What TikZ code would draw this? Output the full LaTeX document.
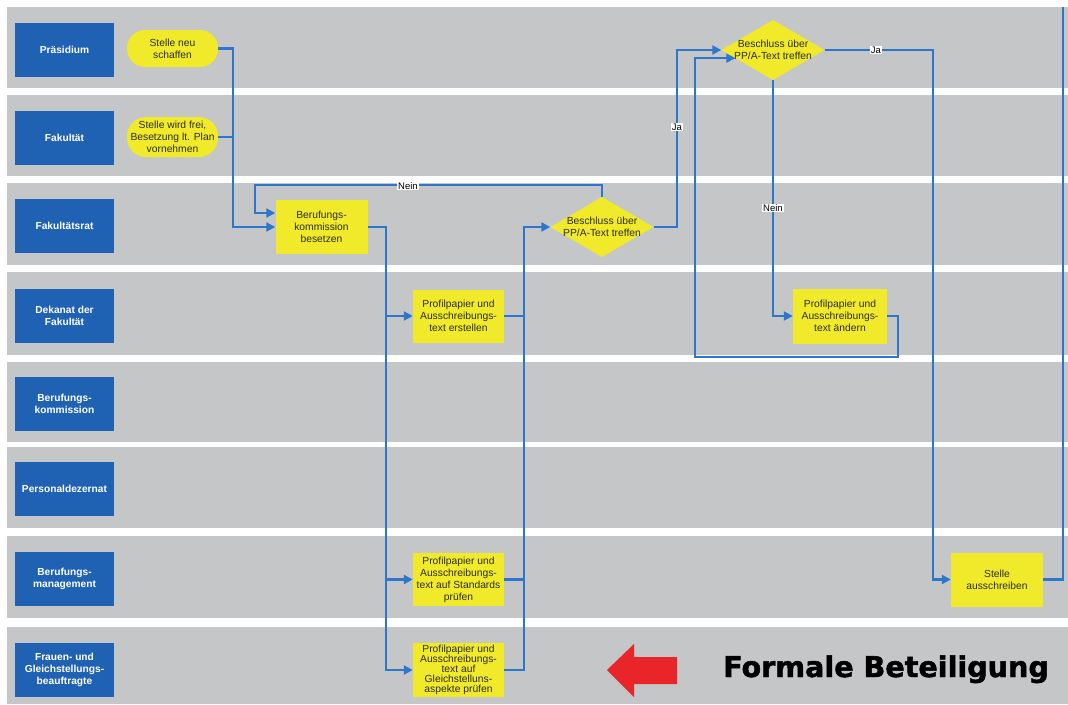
\documentclass[tikz,border=0pt]{standalone}
\usepackage{fontspec}
\setmainfont{Liberation Sans}
\newfontfamily\heavyfont{DejaVu Sans}[BoldFeatures={FakeBold=1.6}]
\usetikzlibrary{arrows.meta,calc}

\definecolor{lanegray}{RGB}{196,198,200}
\definecolor{headblue}{RGB}{31,97,178}
\definecolor{stepyellow}{RGB}{240,234,42}
\definecolor{flowblue}{RGB}{46,118,204}
\definecolor{steptext}{RGB}{45,45,35}
\definecolor{alertred}{RGB}{232,38,42}

\tikzset{
  lanefill/.style={fill=lanegray, draw=none},
  header/.style={rectangle, fill=headblue, text=white,
    font=\bfseries\fontsize{10.2}{12}\selectfont, align=center,
    minimum width=99pt, minimum height=54pt, inner sep=2pt},
  taskbox/.style={rectangle, fill=stepyellow, text=steptext,
    font=\fontsize{10.3}{12}\selectfont, align=center,
    minimum width=91pt, minimum height=53pt, inner sep=1pt},
  pill/.style={taskbox, rounded corners=18pt, minimum height=37pt},
  decision/.style={rectangle, text=steptext,
    font=\fontsize{10.3}{12}\selectfont, align=center,
    minimum width=103pt, minimum height=60pt, inner sep=0pt,
    path picture={\fill[stepyellow]
      (path picture bounding box.north) -- (path picture bounding box.east)
      -- (path picture bounding box.south) -- (path picture bounding box.west) -- cycle;}},
  link/.style={draw=flowblue, line width=2.1pt},
  flow/.style={link, -{Triangle[length=9pt,width=9pt]}},
  tag/.style={fill=white, text=black, font=\fontsize{9.5}{10}\selectfont, inner sep=1pt},
}

\begin{document}
\begin{tikzpicture}[x=1pt, y=-1pt]
  \useasboundingbox (0,0) rectangle (1068,704);
  \fill[white] (0,0) rectangle (1068,704);

  % swimlanes
  \foreach \t/\b in {7/88, 95/176, 183/265, 272/355, 362/442, 447/528, 536/618, 627/704}
    \fill[lanefill] (7,\t) rectangle (1068,\b);

  % lane headers
  \node[header] (h1) at (64.5,49.5)  {Präsidium};
  \node[header] (h2) at (64.5,137.5) {Fakultät};
  \node[header] (h3) at (64.5,226)   {Fakultätsrat};
  \node[header] (h4) at (64.5,315.5) {Dekanat der\\Fakultät};
  \node[header] (h5) at (64.5,403.5) {Berufungs-\\kommission};
  \node[header] (h6) at (64.5,489)   {Personaldezernat};
  \node[header] (h7) at (64.5,579)   {Berufungs-\\management};
  \node[header] (h8) at (64.5,670)   {Frauen- und\\Gleichstellungs-\\beauftragte};

  % process steps
  \node[pill] (s1) at (172.5,48.5) {Stelle neu\\schaffen};
  \node[pill, minimum height=40pt, rounded corners=19pt] (s2) at (172.5,137) {Stelle wird frei,\\Besetzung lt. Plan\\vornehmen};
  \node[taskbox, minimum width=92pt, minimum height=54pt] (bk) at (321.5,227) {Berufungs-\\kommission\\besetzen};
  \node[decision] (d1) at (602,227) {Beschluss über\\PP/A-Text treffen};
  \node[taskbox] (pe) at (458.5,316) {Profilpapier und\\Ausschreibungs-\\text erstellen};
  \node[decision] (d2) at (773,50) {Beschluss über\\PP/A-Text treffen};
  \node[taskbox, minimum width=94pt, minimum height=55pt] (pa) at (840,316) {Profilpapier und\\Ausschreibungs-\\text ändern};
  \node[taskbox] (ps) at (458.5,579.5) {Profilpapier und\\Ausschreibungs-\\text auf Standards\\prüfen};
  \node[taskbox, minimum height=54pt, font=\fontsize{10.3}{10}\selectfont] (pg) at (458.5,670) {Profilpapier und\\Ausschreibungs-\\text auf\\Gleichstelluns-\\aspekte prüfen};
  \node[taskbox, minimum width=92pt, minimum height=54pt] (sa) at (997,579.5) {Stelle\\ausschreiben};

  % bend points of the connectors
  \coordinate (c1) at (233,0);
  \coordinate (n1) at (255,185);
  \coordinate (c3) at (386,0);
  \coordinate (c4) at (524,0);
  \coordinate (c5) at (677,0);
  \coordinate (lp) at (898,357);
  \coordinate (c7) at (695,0);
  \coordinate (c8) at (933,0);
  \coordinate (up) at (1063,7);
  \coordinate (d2in) at ($(d2.west)!0.27!(d2.south)$);

  % connectors
  \draw[flow] (s1.east) -- (s1.east -| c1) |- (bk.west);
  \draw[link] (s2.east) -- (s2.east -| c1);
  \draw[flow] (d1.north) |- (n1) |- ([yshift=14pt]bk.west);
  \draw[flow] (bk.east) -- (bk.east -| c3) |- (pg.west);
  \draw[flow] (pe.west -| c3) -- (pe.west);
  \draw[flow] (ps.west -| c3) -- (ps.west);
  \draw[link] (pe.east) -- (pe.east -| c4);
  \draw[link] (ps.east) -- (ps.east -| c4);
  \draw[flow] (pg.east) -- (pg.east -| c4) |- (d1.west);
  \draw[flow] (d1.east) -- (d1.east -| c5) |- (d2.west);
  \draw[flow] (d2.south) |- (pa.west);
  \draw[flow] (pa.east) -- (pa.east -| lp) -- (lp) -- (lp -| c7) |- (d2in);
  \draw[flow] (d2.east) -- (d2.east -| c8) |- (sa.west);
  \draw[link] (sa.east) -| (up);

  % connector labels
  \node[tag] (t1) at (408,186) {Nein};
  \node[tag] (t2) at (677,127) {Ja};
  \node[tag] (t3) at (773,208) {Nein};
  \node[tag] (t4) at (876,50)  {Ja};

  % emphasis arrow and caption
  \fill[alertred] (607,670) -- (634,644) -- (634,657) -- (677,657)
    -- (677,684) -- (634,684) -- (634,697) -- cycle;
  \node[anchor=base west, inner sep=0pt, text=black,
    font=\heavyfont\bfseries\fontsize{28.6}{30}\selectfont] (cap) at (723,677)
    {Formale Beteiligung};
\end{tikzpicture}
\end{document}
